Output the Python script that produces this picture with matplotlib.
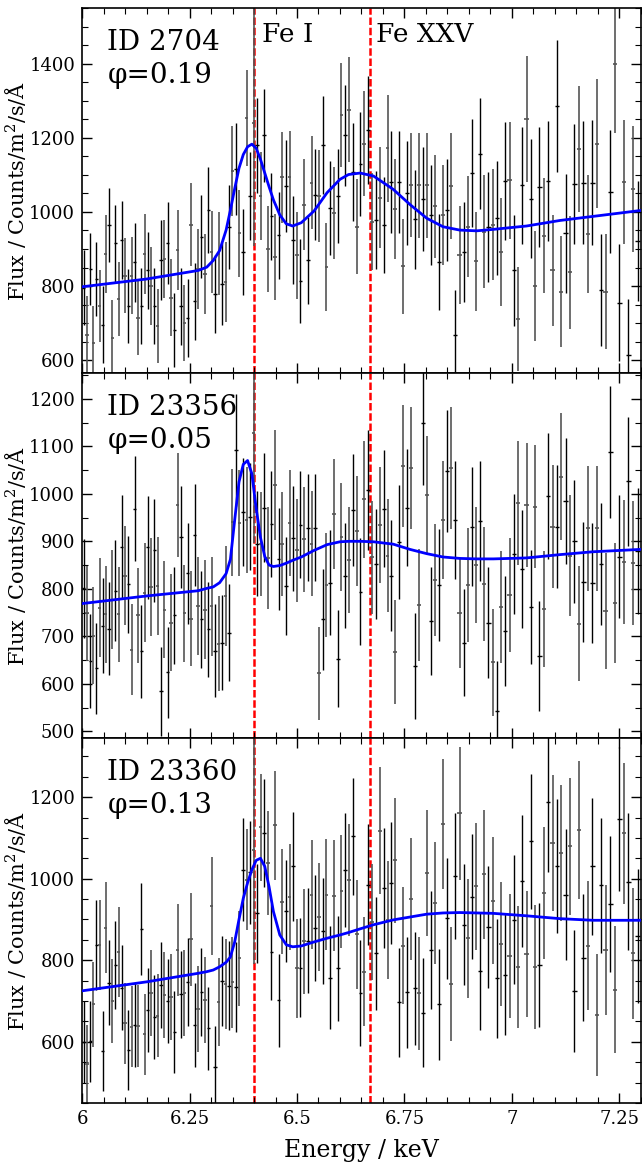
import numpy as np
import matplotlib
matplotlib.use('Agg')
import matplotlib.pyplot as plt
from matplotlib.ticker import MultipleLocator, FuncFormatter

plt.rcParams['font.family'] = ['DejaVu Serif']
plt.rcParams['mathtext.fontset'] = 'dejavuserif'

# Wavelength bins (0.0025 A grid of the spectrum), shown in energy
lam = np.arange(1.700, 2.066, 0.0025)[::-1]
energy = 12.398 / lam
xerr = energy * 0.00125 / lam

obs_ids = ['ID 2704', 'ID 23356', 'ID 23360']
phases = ['φ=0.19', 'φ=0.05', 'φ=0.13']

flux_2704 = [796, 668, 846, 645, 820, 746, 695, 887, 965, 659,
             916, 764, 924, 828, 746, 828, 864, 714, 746, 887,
             842, 800, 746, 691, 869, 873, 916, 768, 682, 896,
             746, 700, 714, 965, 759, 846, 933, 832, 1006, 892,
             778, 887, 805, 810, 960, 1111, 1116, 942, 892, 1253,
             1043, 1239, 1180, 1043, 1207, 901, 988, 878, 937, 1093,
             1070, 1093, 924, 883, 814, 1020, 869, 1079, 1047, 1043,
             1180, 851, 1011, 997, 1043, 1262, 1207, 1276, 1107, 960,
             1129, 1184, 1221, 974, 979, 1038, 965, 1172, 1081, 1008,
             1081, 853, 1052, 1072, 980, 1072, 1035, 1072, 992, 1015,
             864, 992, 1006, 1070, 668, 883, 892, 960, 1105, 867,
             1157, 947, 960, 965, 983, 892, 1084, 1086, 842, 711,
             1072, 1251, 1036, 800, 1068, 936, 1084, 842, 1285, 785,
             942, 837, 1075, 1171, 1079, 940, 1079, 1184, 789, 785,
             1054, 1399, 755, 1081, 615, 1061, 921]
err_2704 = [100, 105, 98, 102, 100, 98, 104, 106, 100, 102,
            104, 100, 106, 102, 100, 104, 106, 100, 102, 108,
            104, 106, 102, 100, 108, 106, 110, 104, 100, 108,
            104, 102, 106, 112, 104, 108, 112, 108, 116, 110,
            106, 112, 110, 108, 114, 122, 124, 118, 116, 130,
            120, 330, 128, 120, 126, 116, 118, 116, 118, 124,
            124, 126, 118, 118, 114, 124, 118, 126, 124, 124,
            132, 118, 126, 124, 128, 140, 136, 142, 132, 128,
            140, 142, 146, 132, 132, 136, 130, 144, 138, 134,
            138, 128, 140, 140, 134, 142, 140, 142, 136, 138,
            130, 136, 138, 142, 120, 132, 134, 136, 146, 134,
            150, 152, 148, 150, 154, 146, 160, 158, 150, 140,
            158, 170, 160, 148, 162, 156, 162, 150, 178, 150,
            160, 152, 162, 170, 166, 160, 168, 174, 152, 156,
            166, 186, 158, 168, 150, 170, 162]

flux_23356 = [801, 749, 648, 701, 633, 760, 722, 746, 716, 777,
              796, 746, 889, 828, 810, 672, 969, 744, 669, 792,
              887, 804, 881, 806, 584, 756, 624, 729, 744, 976,
              909, 749, 833, 737, 913, 764, 736, 756, 715, 763,
              670, 684, 687, 785, 708, 940, 1093, 938, 962, 945,
              952, 1127, 895, 894, 971, 865, 936, 1019, 863, 894,
              806, 938, 906, 881, 935, 904, 929, 895, 929, 622,
              736, 808, 813, 957, 653, 909, 828, 861, 966, 921,
              794, 988, 1008, 866, 852, 935, 969, 870, 828, 667,
              899, 1058, 971, 1054, 638, 766, 1150, 998, 732, 818,
              808, 944, 1048, 1054, 944, 749, 687, 808, 931, 851,
              942, 810, 729, 645, 543, 761, 712, 787, 873, 981,
              842, 976, 761, 973, 659, 758, 995, 931, 931, 1036,
              985, 870, 900, 727, 815, 927, 813, 927, 852, 754,
              1088, 770, 868, 856, 1026, 854, 880]
err_23356 = [104, 100, 98, 102, 96, 104, 100, 102, 98, 104,
             106, 100, 108, 104, 102, 96, 110, 100, 98, 104,
             108, 104, 108, 104, 94, 102, 96, 102, 102, 110,
             108, 102, 106, 100, 108, 104, 102, 104, 100, 104,
             98, 100, 100, 106, 102, 112, 118, 112, 114, 112,
             112, 230, 110, 110, 114, 108, 112, 116, 108, 110,
             104, 112, 110, 108, 112, 110, 112, 110, 112, 98,
             106, 110, 110, 116, 102, 114, 110, 112, 118, 116,
             112, 124, 126, 118, 116, 122, 124, 118, 116, 110,
             120, 128, 124, 128, 112, 118, 132, 124, 114, 118,
             118, 124, 128, 128, 124, 116, 112, 120, 126, 122,
             126, 120, 116, 112, 106, 118, 116, 120, 126, 130,
             124, 130, 120, 130, 116, 122, 132, 130, 130, 134,
             132, 128, 130, 120, 126, 132, 126, 132, 128, 122,
             138, 126, 130, 130, 136, 130, 132]

flux_23360 = [600, 546, 601, 692, 838, 838, 577, 880, 745, 700,
              788, 821, 733, 645, 579, 637, 641, 639, 877, 618,
              678, 719, 661, 664, 739, 715, 700, 710, 624, 825,
              716, 719, 746, 852, 641, 680, 721, 702, 633, 934,
              538, 698, 749, 741, 738, 746, 735, 805, 1022, 997,
              1016, 1070, 915, 1126, 1112, 1038, 821, 1131, 702, 944,
              921, 954, 1030, 780, 782, 846, 848, 961, 879, 906,
              872, 961, 757, 958, 780, 969, 1022, 997, 1104, 864,
              719, 772, 985, 893, 817, 1118, 977, 899, 989, 1045,
              697, 836, 721, 950, 731, 719, 671, 1014, 825, 940,
              692, 1134, 903, 741, 1006, 1160, 887, 854, 956, 981,
              774, 1011, 881, 946, 756, 840, 765, 811, 899, 783,
              995, 815, 1092, 784, 788, 965, 1188, 1088, 1032, 1063,
              961, 1079, 725, 1119, 806, 836, 1030, 665, 984, 825,
              938, 728, 1147, 1111, 993, 817, 860]
err_23360 = [100, 96, 100, 104, 110, 110, 98, 112, 104, 102,
             108, 110, 104, 100, 98, 100, 102, 100, 112, 100,
             104, 106, 102, 102, 106, 106, 104, 106, 100, 112,
             106, 106, 108, 114, 102, 106, 108, 106, 102, 120,
             100, 108, 110, 110, 110, 112, 110, 116, 126, 124,
             126, 280, 122, 132, 132, 128, 118, 134, 114, 128,
             126, 130, 134, 122, 122, 128, 128, 134, 130, 132,
             130, 136, 126, 136, 128, 138, 140, 138, 144, 134,
             130, 134, 148, 142, 138, 156, 148, 144, 150, 154,
             134, 144, 136, 150, 138, 138, 134, 154, 144, 150,
             136, 160, 148, 140, 154, 164, 148, 146, 154, 156,
             144, 158, 150, 156, 146, 152, 148, 152, 158, 150,
             162, 154, 166, 152, 152, 162, 172, 166, 164, 166,
             160, 168, 150, 170, 156, 158, 168, 150, 166, 160,
             166, 156, 176, 172, 168, 160, 164]

# Fitted model curves
model_e = [6.00, 6.15, 6.27, 6.29, 6.305, 6.32, 6.335, 6.345, 6.355, 6.365,
           6.375, 6.385, 6.395, 6.405, 6.415, 6.425, 6.435, 6.445, 6.46, 6.475,
           6.49, 6.51, 6.54, 6.57, 6.60, 6.62, 6.647, 6.678, 6.724, 6.763,
           6.802, 6.84, 6.879, 6.918, 6.957, 7.034, 7.112, 7.189, 7.30]
model_2704 = [798, 819, 842, 851, 869, 896, 951, 1005, 1063, 1118,
              1155, 1176, 1183, 1172, 1142, 1105, 1068, 1033, 992, 968,
              962, 971, 1003, 1052, 1088, 1101, 1105, 1097, 1061, 1020,
              983, 960, 951, 949, 953, 962, 977, 988, 1004]
model_23356 = [769, 785, 796, 801, 804, 813, 832, 862, 945, 1025,
               1062, 1070, 1042, 969, 908, 868, 850, 847, 849, 854,
               860, 867, 881, 893, 899, 900, 900, 899, 894, 883,
               874, 867, 864, 863, 863, 865, 872, 878, 883]
model_23360 = [725, 747, 768, 772, 776, 784, 795, 808, 845, 900,
               952, 990, 1022, 1045, 1050, 1030, 980, 920, 862, 838,
               833, 835, 845, 854, 862, 868, 877, 887, 899, 906,
               913, 916, 917, 916, 915, 909, 902, 898, 898]

fluxes = [flux_2704, flux_23356, flux_23360]
errors = [err_2704, err_23356, err_23360]
models = [model_2704, model_23356, model_23360]
ylims = [(565, 1550), (486, 1254), (450, 1345)]
ymajor = [200, 100, 200]

fig, axes = plt.subplots(3, 1, figsize=(6.42, 11.69), dpi=100, sharex=True)
fig.subplots_adjust(left=0.128, right=0.998, top=0.993, bottom=0.0565, hspace=0)

for i, ax in enumerate(axes):
    ax.axvline(6.40, color='red', lw=1.8, ls=(0, (3, 1.1)), zorder=1)
    ax.axvline(6.67, color='red', lw=1.8, ls=(0, (3, 1.1)), zorder=1)
    f = np.array(fluxes[i])
    e = np.array(errors[i])
    # alternate bins come out black / grey in the original rendering
    ax.errorbar(energy[::2], f[::2], yerr=e[::2], xerr=xerr[::2], fmt='none',
                ecolor='black', elinewidth=1.0, capsize=0, zorder=2)
    ax.errorbar(energy[1::2], f[1::2], yerr=e[1::2], xerr=xerr[1::2], fmt='none',
                ecolor='#555555', elinewidth=1.2, capsize=0, zorder=2)
    ax.plot(model_e, models[i], color='blue', lw=2, zorder=3)

    ax.set_xlim(6, 7.3)
    ax.set_ylim(*ylims[i])
    ax.yaxis.set_major_locator(MultipleLocator(ymajor[i]))
    ax.yaxis.set_minor_locator(MultipleLocator(50))
    ax.xaxis.set_major_locator(MultipleLocator(0.25))
    ax.xaxis.set_minor_locator(MultipleLocator(0.05))
    ax.tick_params(which='both', direction='in', top=True, right=True, labelsize=13)
    ax.tick_params(which='major', length=7, width=1, pad=5)
    ax.tick_params(which='minor', length=4, width=0.8)
    for s in ax.spines.values():
        s.set_linewidth(1.2)
    ax.set_ylabel('Flux / Counts/m$^2$/s/Å', fontsize=15)
    ax.yaxis.set_label_coords(-0.097, 0.5)

    ax.text(0.045, 0.905, obs_ids[i], transform=ax.transAxes, fontsize=20, va='center')
    ax.text(0.045, 0.815, phases[i], transform=ax.transAxes, fontsize=20, va='center')

axes[0].text(6.418, 1480, 'Fe I', fontsize=19, va='center')
axes[0].text(6.685, 1480, 'Fe XXV', fontsize=19, va='center')

axes[2].xaxis.set_major_formatter(FuncFormatter(lambda v, p: '%g' % v))
axes[2].set_xlabel('Energy / keV', fontsize=17, labelpad=8)

plt.savefig('out.png', dpi=100)
